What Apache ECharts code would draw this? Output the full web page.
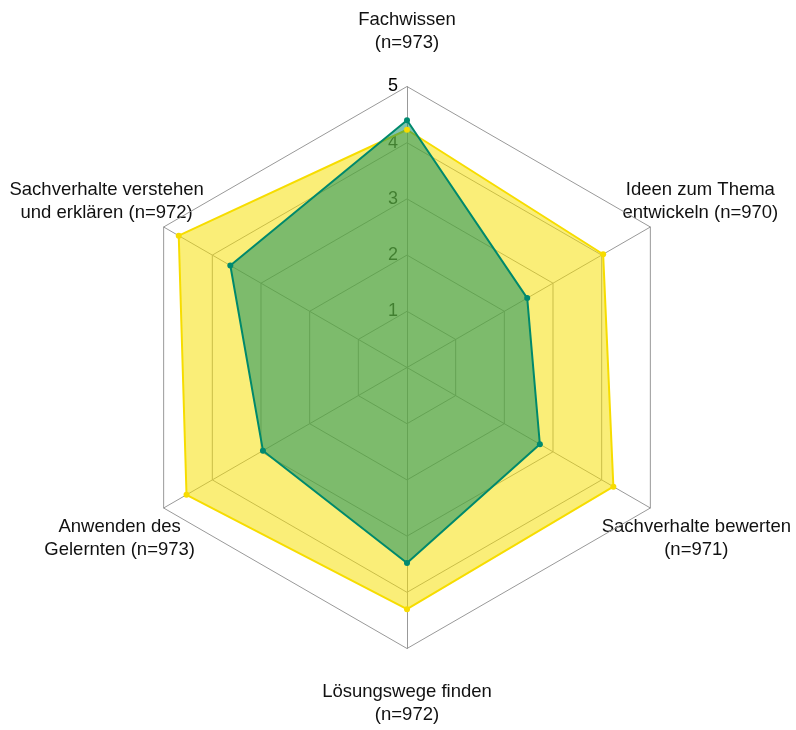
<!DOCTYPE html>
<html>
<head>
<meta charset="utf-8">
<script src="https://cdn.jsdelivr.net/npm/echarts@6/dist/echarts.min.js"></script>
<style>
  html, body { margin: 0; background: #fff; }
  #chart { width: 796px; height: 730px; }
</style>
</head>
<body>
<div id="chart"></div>
<script>
// Achsen, gegen den Uhrzeigersinn ab oben
var categories = [
  "Fachwissen\n(n=973)",
  "Sachverhalte verstehen\nund erklären (n=972)",
  "Anwenden des\nGelernten (n=973)",
  "Lösungswege finden\n(n=972)",
  "Sachverhalte bewerten\n(n=971)",
  "Ideen zum Thema\nentwickeln (n=970)"
];
// Werte
var valuesYellow = [4.23, 4.69, 4.53, 4.30, 4.24, 4.03];
var valuesGreen = [4.40, 3.63, 2.96, 3.48, 2.73, 2.47];
var axisMax = 5;
var splitCount = 5;

// Layout
var cx = 407, cy = 367.5, radius = 281;
var FONT = "Liberation Sans, Arial, sans-serif";
// Versatz der Achsentitel zum Eckpunkt
var nameOffsets = [[0, -55], [-57, -26], [-44, 30], [0, 55], [46, 30], [50, -26]];

var chart = echarts.init(document.getElementById("chart"));

var indicators = categories.map(function (c, i) {
  var ind = { name: c, max: axisMax, min: 0 };
  if (i === 0) {
    ind.axisLabel = {
      show: true,
      showMinLabel: false,
      fontSize: 18,
      fontFamily: FONT,
      color: "#000",
      margin: 9
    };
  }
  return ind;
});

// Titel an den Ecken
var nameGraphics = categories.map(function (c, i) {
  var a = (90 + 60 * i) * Math.PI / 180;
  var vx = cx + radius * Math.cos(a);
  var vy = cy - radius * Math.sin(a);
  return {
    type: "text",
    x: vx + nameOffsets[i][0],
    y: vy + nameOffsets[i][1],
    style: {
      text: c,
      font: "18.5px " + FONT,
      fill: "#111",
      textAlign: "center",
      textVerticalAlign: "middle",
      lineHeight: 23
    }
  };
});

chart.setOption({
  animation: false,
  radar: {
    center: [cx, cy],
    radius: radius,
    startAngle: 90,
    splitNumber: splitCount,
    shape: "polygon",
    indicator: indicators,
    axisName: { show: false },
    axisLabel: { show: false },
    axisLine: { lineStyle: { color: "#999", width: 1 } },
    splitLine: { lineStyle: { color: "#999", width: 1 } },
    splitArea: { show: false }
  },
  graphic: nameGraphics,
  series: [
    {
      type: "radar",
      symbol: "circle",
      symbolSize: 6,
      data: [
        {
          value: valuesYellow,
          itemStyle: { color: "#f7dc00" },
          lineStyle: { color: "#f7dc00", width: 2 },
          areaStyle: { color: "rgba(245,222,0,0.53)", opacity: 1 }
        },
        {
          value: valuesGreen,
          itemStyle: { color: "#008a70" },
          lineStyle: { color: "#008a70", width: 2 },
          areaStyle: { color: "rgba(0,136,96,0.5)", opacity: 1 }
        }
      ]
    }
  ]
});
</script>
</body>
</html>
